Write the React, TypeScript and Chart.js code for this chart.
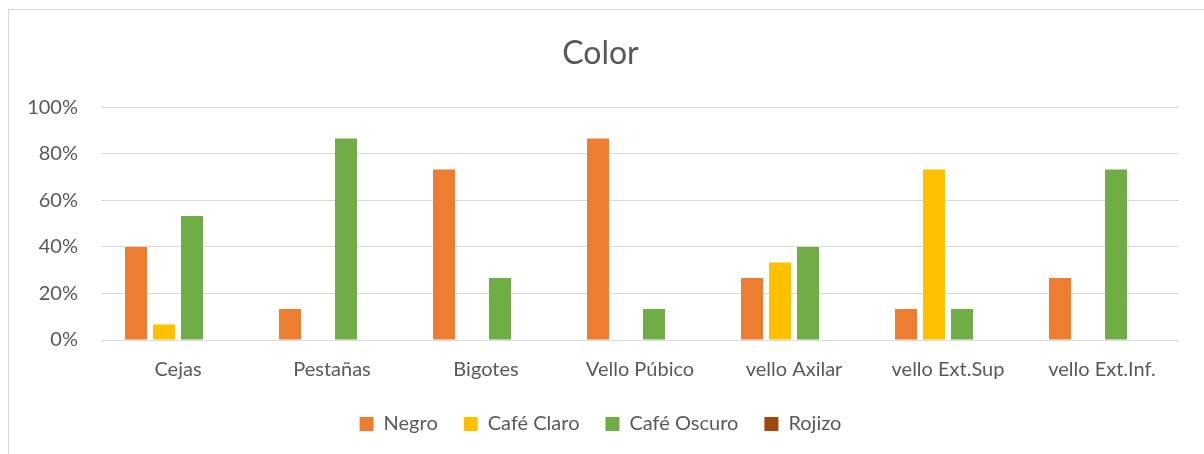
import { useEffect, useRef } from "react";
import Chart from "chart.js/auto";

const categories = [
  "Cejas",
  "Pestañas",
  "Bigotes",
  "Vello Púbico",
  "vello Axilar",
  "vello Ext.Sup",
  "vello Ext.Inf.",
];
const negro = [40, 13.33, 73.33, 86.67, 26.67, 13.33, 26.67];
const cafeClaro = [6.67, 0, 0, 0, 33.33, 73.33, 0];
const cafeOscuro = [53.33, 86.67, 26.67, 13.33, 40, 13.33, 73.33];
const rojizo = [0, 0, 0, 0, 0, 0, 0];
const yTicks = [0, 20, 40, 60, 80, 100];

const TEXT = "#595959";
const GRID = "#d9d9d9";
const FONT = "Lato, 'Open Sans', sans-serif";

export default function App() {
  const ref = useRef<HTMLCanvasElement>(null);
  const chartRef = useRef<Chart | null>(null);

  useEffect(() => {
    if (!ref.current) return;
    chartRef.current?.destroy();
    chartRef.current = new Chart(ref.current, {
      type: "bar",
      data: {
        labels: categories,
        datasets: [
          { label: "Negro", data: negro, backgroundColor: "#ED7D31" },
          { label: "Café Claro", data: cafeClaro, backgroundColor: "#FFC000" },
          { label: "Café Oscuro", data: cafeOscuro, backgroundColor: "#70AD47" },
          { label: "Rojizo", data: rojizo, backgroundColor: "#9E480E" },
        ],
      },
      options: {
        animation: false,
        responsive: true,
        maintainAspectRatio: false,
        layout: { padding: { left: 22, right: 25, top: 0, bottom: 10 } },
        datasets: {
          bar: { categoryPercentage: 0.727, barPercentage: 0.786 },
        },
        plugins: {
          title: {
            display: true,
            text: "Color",
            color: TEXT,
            font: { family: FONT, size: 32, weight: "normal" },
            padding: { top: 34, bottom: 35 },
          },
          legend: {
            position: "bottom",
            maxHeight: 56,
            labels: {
              color: TEXT,
              font: { family: FONT, size: 20 },
              boxWidth: 14,
              boxHeight: 14,
              padding: 26,
            },
          },
          tooltip: { enabled: false },
        },
        scales: {
          x: {
            grid: { display: false, drawTicks: false },
            border: { display: false },
            ticks: {
              color: TEXT,
              font: { family: FONT, size: 20 },
              padding: 18,
              maxRotation: 0,
            },
            afterFit: (s: any) => {
              s.height = 48;
            },
          },
          y: {
            min: 0,
            max: 100,
            grid: { color: GRID, lineWidth: 1, drawTicks: false },
            border: { display: false },
            afterBuildTicks: (s: any) => {
              s.ticks = yTicks.map((v) => ({ value: v }));
            },
            ticks: {
              color: TEXT,
              font: { family: FONT, size: 20 },
              padding: 23,
              callback: (v: any) => v + "%",
            },
            afterFit: (s: any) => {
              s.width = 79;
            },
          },
        },
      },
    });
    return () => chartRef.current?.destroy();
  }, []);

  return (
    <div
      style={{
        position: "fixed",
        left: 0,
        top: 0,
        width: 1204,
        height: 454,
        overflow: "hidden",
        background: "#fff",
      }}
    >
      <div
        style={{
          position: "absolute",
          left: 8,
          top: 9,
          width: 1220,
          height: 470,
          border: "1px solid #d9d9d9",
        }}
      />
      <div style={{ position: "absolute", left: 0, top: 0, width: 1204, height: 454 }}>
        <canvas ref={ref} />
      </div>
    </div>
  );
}
